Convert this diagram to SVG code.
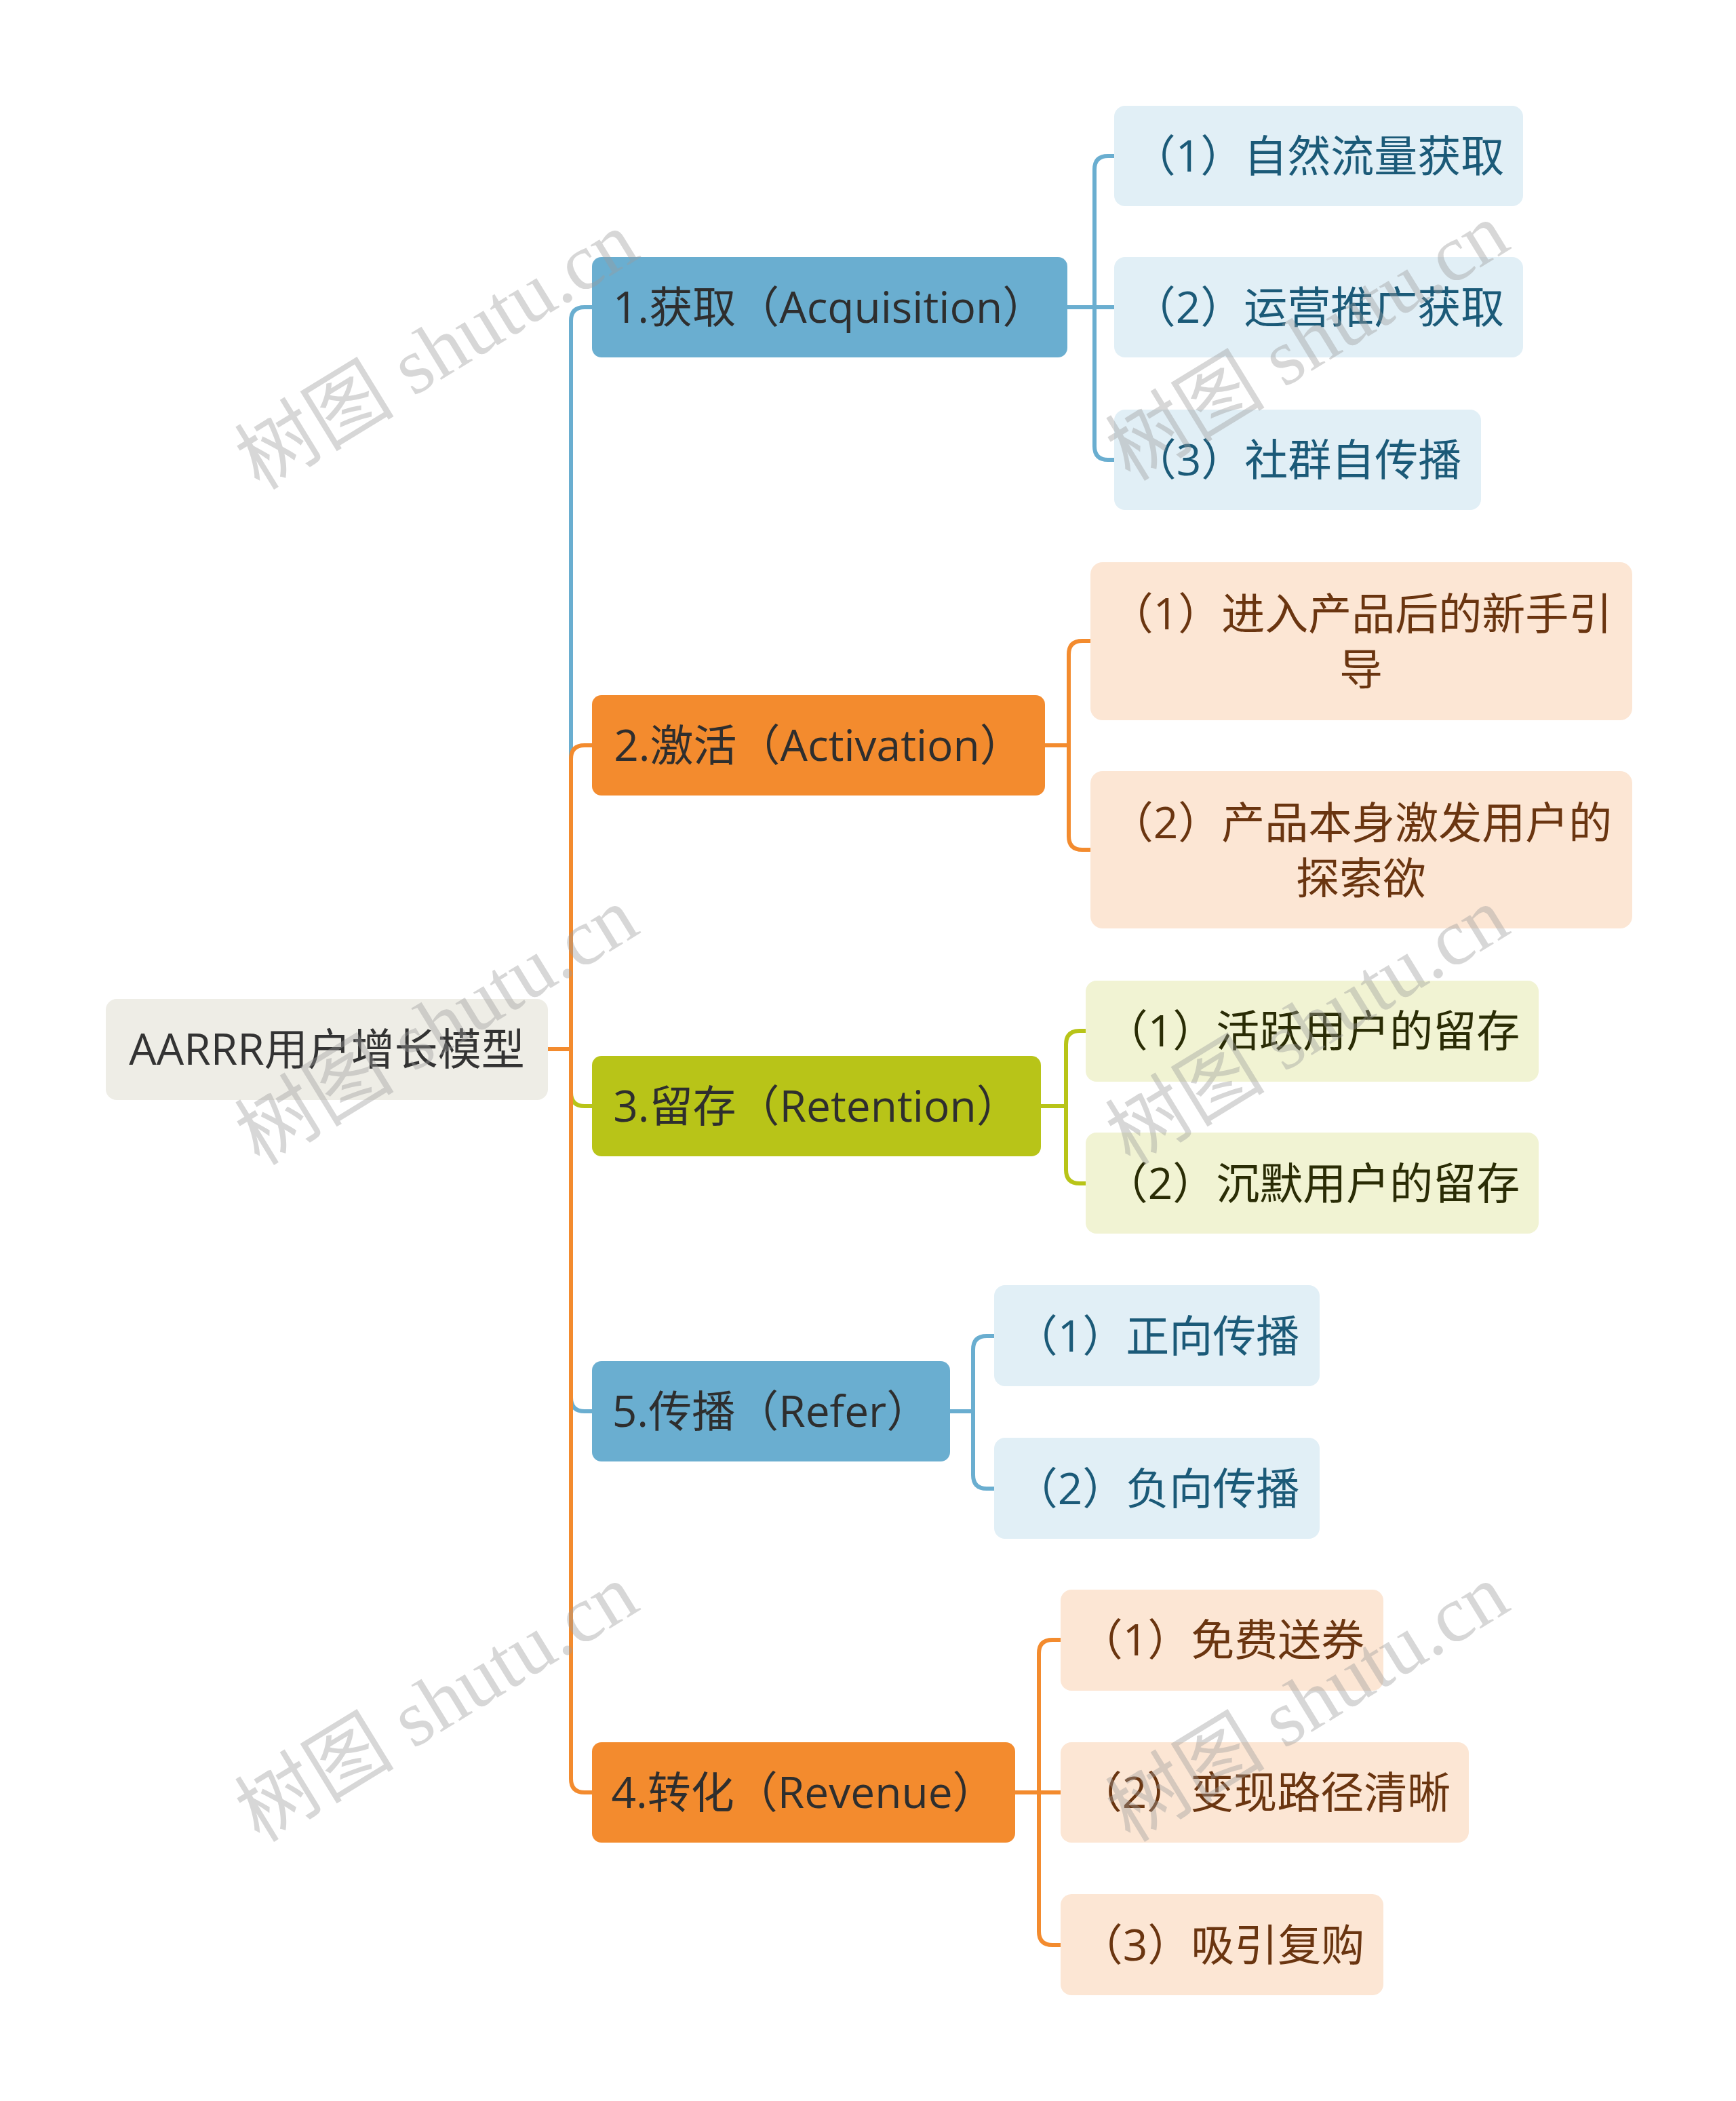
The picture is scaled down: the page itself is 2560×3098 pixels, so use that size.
<svg xmlns="http://www.w3.org/2000/svg" width="2560" height="3098" viewBox="0 0 2560 3098">
<style>
text{font-family:"Open Sans","Noto Sans CJK SC",sans-serif;font-size:64px;text-anchor:middle}
.root rect{fill:#EEEDE6}.root text{fill:#333333}
.mb rect{fill:#6AAED0}.mo rect{fill:#F38B2E}.mg rect{fill:#B8C418}
.mb text,.mo text,.mg text{fill:#2E2E2E}
.cb rect{fill:#E1EFF6}.cb text{fill:#1B5A78}
.co rect{fill:#FCE6D4}.co text{fill:#6A3510}
.cg rect{fill:#F1F3D3}.cg text{fill:#2A2C05}
.conn path{fill:none;stroke-width:6;stroke-linecap:butt}
.lb{stroke:#6AAED0}.lo{stroke:#F38B2E}.lg{stroke:#B8C418}
.wm text{font-family:"Liberation Serif","Noto Sans CJK SC",serif;font-size:118px;fill:#9A9A9A;fill-opacity:0.4}
</style>
<rect width="2560" height="3098" fill="#FFFFFF"/>
<g id="connectors" class="conn">
<path class="lb" d="M808,1547 H842 V473 Q842,453 862,453 H876"/>
<path class="lo" d="M808,1547 H842 V1119 Q842,1099 862,1099 H876"/>
<path class="lg" d="M808,1547 H842 V1611 Q842,1631 862,1631 H876"/>
<path class="lb" d="M808,1547 H842 V2061 Q842,2081 862,2081 H876"/>
<path class="lo" d="M808,1547 H842 V2623 Q842,2643 862,2643 H876"/>
<path class="lb" d="M1571,453 H1646"/>
<path class="lb" d="M1614,453 V250 Q1614,230 1634,230 H1646"/>
<path class="lb" d="M1614,453 V658 Q1614,678 1634,678 H1646"/>
<path class="lo" d="M1538,1099 H1576 V965 Q1576,945 1596,945 H1611"/>
<path class="lo" d="M1576,1099 V1233 Q1576,1253 1596,1253 H1611"/>
<path class="lg" d="M1532,1631 H1572 V1540 Q1572,1520 1592,1520 H1604"/>
<path class="lg" d="M1572,1631 V1725 Q1572,1745 1592,1745 H1604"/>
<path class="lb" d="M1398,2081 H1435 V1990 Q1435,1970 1455,1970 H1469"/>
<path class="lb" d="M1435,2081 V2175 Q1435,2195 1455,2195 H1469"/>
<path class="lo" d="M1494,2643 H1567"/>
<path class="lo" d="M1532,2643 V2438 Q1532,2418 1552,2418 H1567"/>
<path class="lo" d="M1532,2643 V2848 Q1532,2868 1552,2868 H1567"/>
</g>
<g id="root" class="root"><rect x="156" y="1473" width="652" height="149" rx="16"/><text x="482" y="1570">AARRR用户增长模型</text></g>
<g id="m1" class="mb"><rect x="873" y="379" width="701" height="148" rx="14"/><text x="1223" y="476">1.获取（Acquisition）</text></g>
<g id="m2" class="mo"><rect x="873" y="1025" width="668" height="148" rx="14"/><text x="1207" y="1122">2.激活（Activation）</text></g>
<g id="m3" class="mg"><rect x="873" y="1557" width="662" height="148" rx="14"/><text x="1204" y="1654">3.留存（Retention）</text></g>
<g id="m5" class="mb"><rect x="873" y="2007" width="528" height="148" rx="14"/><text x="1137" y="2104">5.传播（Refer）</text></g>
<g id="m4" class="mo"><rect x="873" y="2569" width="624" height="148" rx="14"/><text x="1185" y="2666">4.转化（Revenue）</text></g>
<g id="c1a" class="cb"><rect x="1643" y="156" width="603" height="148" rx="16"/><text x="1944" y="253">（1）自然流量获取</text></g>
<g id="c1b" class="cb"><rect x="1643" y="379" width="603" height="148" rx="16"/><text x="1944" y="476">（2）运营推广获取</text></g>
<g id="c1c" class="cb"><rect x="1643" y="604" width="541" height="148" rx="16"/><text x="1913" y="701">（3）社群自传播</text></g>
<g id="c2a" class="co"><rect x="1608" y="829" width="799" height="233" rx="18"/><text x="2007" y="928">（1）进入产品后的新手引</text><text x="2007" y="1010">导</text></g>
<g id="c2b" class="co"><rect x="1608" y="1137" width="799" height="232" rx="18"/><text x="2007" y="1236">（2）产品本身激发用户的</text><text x="2007" y="1318">探索欲</text></g>
<g id="c3a" class="cg"><rect x="1601" y="1446" width="668" height="149" rx="16"/><text x="1935" y="1543">（1）活跃用户的留存</text></g>
<g id="c3b" class="cg"><rect x="1601" y="1670" width="668" height="149" rx="16"/><text x="1935" y="1768">（2）沉默用户的留存</text></g>
<g id="c5a" class="cb"><rect x="1466" y="1895" width="480" height="149" rx="16"/><text x="1706" y="1993">（1）正向传播</text></g>
<g id="c5b" class="cb"><rect x="1466" y="2120" width="480" height="149" rx="16"/><text x="1706" y="2218">（2）负向传播</text></g>
<g id="c4a" class="co"><rect x="1564" y="2344" width="476" height="149" rx="16"/><text x="1802" y="2441">（1）免费送券</text></g>
<g id="c4b" class="co"><rect x="1564" y="2569" width="602" height="148" rx="16"/><text x="1865" y="2666">（2）变现路径清晰</text></g>
<g id="c4c" class="co"><rect x="1564" y="2793" width="476" height="149" rx="16"/><text x="1802" y="2891">（3）吸引复购</text></g>
<g id="watermarks" class="wm">
<text transform="translate(644,517) rotate(-31.5)" y="40">树图 shutu.cn</text>
<text transform="translate(1928,504) rotate(-31.5)" y="40">树图 shutu.cn</text>
<text transform="translate(644,1513) rotate(-31.5)" y="40">树图 shutu.cn</text>
<text transform="translate(1928,1513) rotate(-31.5)" y="40">树图 shutu.cn</text>
<text transform="translate(644,2511) rotate(-31.5)" y="40">树图 shutu.cn</text>
<text transform="translate(1928,2511) rotate(-31.5)" y="40">树图 shutu.cn</text>
</g>
</svg>
